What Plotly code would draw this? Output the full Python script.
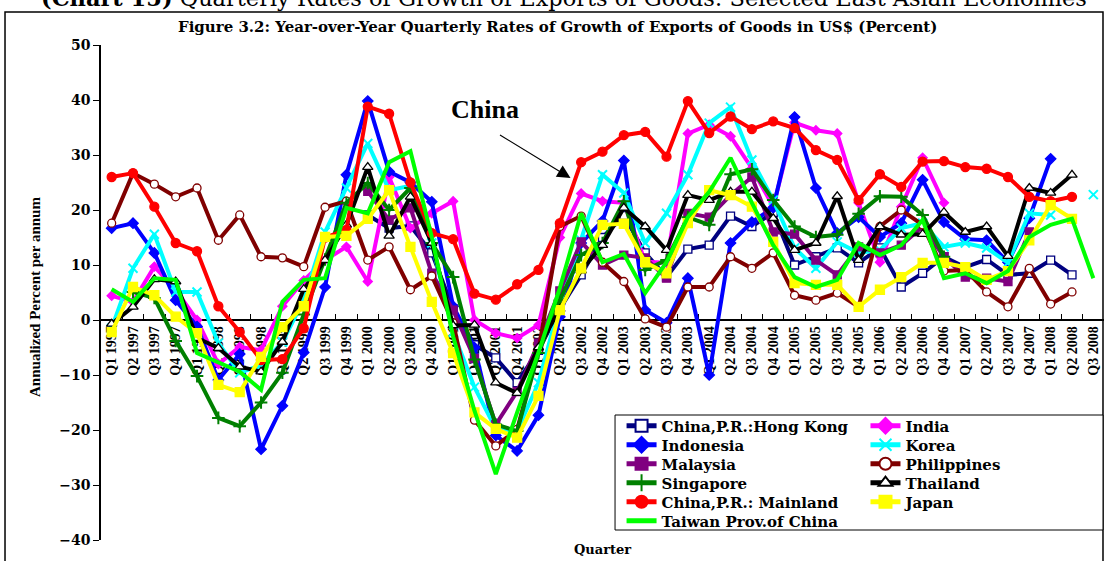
import plotly.graph_objects as go

quarters = [
    "Q1 1997", "Q2 1997", "Q3 1997", "Q4 1997",
    "Q1 1998", "Q2 1998", "Q3 1998", "Q4 1998",
    "Q1 1999", "Q2 1999", "Q3 1999", "Q4 1999",
    "Q1 2000", "Q2 2000", "Q3 2000", "Q4 2000",
    "Q1 2001", "Q2 2001", "Q3 2001", "Q4 2001",
    "Q1 2002", "Q2 2002", "Q3 2002", "Q4 2002",
    "Q1 2003", "Q2 2003", "Q3 2003", "Q4 2003",
    "Q1 2004", "Q2 2004", "Q3 2004", "Q4 2004",
    "Q1 2005", "Q2 2005", "Q3 2005", "Q4 2005",
    "Q1 2006", "Q2 2006", "Q3 2006", "Q4 2006",
    "Q1 2007", "Q2 2007", "Q3 2007", "Q4 2007",
    "Q1 2008", "Q2 2008", "Q3 2008",
]

N = None
hong_kong = [N, N, N, N, N, N, N, N, N, N, N, N,
             19.1, 16.7, 17.1, 12.2, 2.0, -4.5, -6.9, -11.4, -5.5, 2.0, 8.2, 15.0,
             19.0, 12.2, 7.8, 12.9, 13.6, 18.9, 17.0, 19.5, 10.0, 11.5, 13.1, 10.4,
             13.1, 6.0, 8.5, 11.5, 9.6, 11.0, 8.2, 8.5, 10.9, 8.2, N]
india = [4.4, 3.3, 9.7, 5.5, 0.0, -8.0, -4.9, -5.5, 2.5, 7.2, 10.9, 13.3,
         7.0, 26.0, 16.7, 19.4, 21.6, 0.0, -2.4, -3.3, -0.9, 15.0, 23.0, 21.6,
         21.3, 10.6, 10.4, 33.9, 35.5, 33.4, 27.6, 20.6, 35.9, 34.5, 33.9, 21.3,
         10.5, 20.6, 29.5, 21.3, N, N, N, N, N, N, N]
indonesia = [16.7, 17.6, 12.2, 3.6, -1.2, -10.9, -6.2, -23.5, -15.6, -5.9, 6.0, 26.4,
             39.8, 27.0, 25.0, 21.5, 2.5, -5.0, -21.0, -23.8, -17.3, 0.6, 14.0, 18.0,
             29.0, 1.8, -0.5, 7.6, -10.0, 14.0, 17.8, 20.4, 36.9, 24.0, 15.8, 18.7,
             15.1, 17.6, 25.5, 17.8, 14.7, 14.5, 10.5, 18.5, 29.3, N, N]
korea = [-1.5, 9.4, 15.6, 5.1, 5.1, -4.2, -9.6, -8.2, -4.0, 3.6, 16.0, 24.0,
         32.1, 23.6, 24.4, 14.0, -2.2, -12.2, -19.8, -20.2, -11.4, 3.0, 14.5, 26.4,
         23.1, 14.0, 19.4, 26.4, 35.8, 38.7, 29.1, 21.8, 13.1, 9.4, 14.2, 12.2,
         12.7, 16.7, 17.6, 13.3, 14.0, 13.1, 10.4, 19.4, 19.1, N, 22.8]
malaysia = [N, N, N, N, N, N, N, N, N, N, N, N,
            23.4, 18.2, 20.4, 8.5, 1.8, -7.0, -19.0, -13.0, -4.2, 5.3, 14.2, 10.0,
            11.8, 11.3, 7.6, 19.4, 18.7, 22.7, 26.0, 16.0, 15.6, 10.9, 8.2, 13.3,
            12.2, 13.6, 17.0, 11.5, 7.8, 7.6, 7.0, 16.0, N, N, N]
philippines = [17.6, 26.7, 24.7, 22.4, 24.0, 14.5, 19.1, 11.5, 11.3, 9.7, 20.5, 21.6,
               10.9, 13.3, 5.5, 8.0, -0.5, -18.2, -22.9, -19.9, -5.5, 17.0, 18.9, 10.5,
               7.0, 0.2, -1.3, 6.0, 6.0, 11.5, 9.4, 12.2, 4.5, 3.6, 4.9, 2.4,
               17.0, 20.0, 17.3, 8.9, 9.1, 5.1, 2.4, 9.4, 2.9, 5.1, N]
singapore = [N, 5.1, 4.0, -3.8, -10.2, -17.8, -19.3, -15.0, -9.6, 1.0, 11.0, 21.3,
             24.9, 20.0, 24.0, 14.0, 7.8, -7.2, -19.0, -20.2, -6.0, 3.6, 11.8, 14.0,
             21.6, 9.1, 10.9, 18.7, 17.3, 26.5, 27.4, 21.8, 17.0, 15.1, 15.5, 19.3,
             22.5, 22.4, 19.1, 11.5, N, N, N, N, N, N, N]
thailand = [-0.7, 2.4, 7.4, 7.0, -3.3, -5.1, -8.5, -9.4, -4.0, 5.6, 10.9, 17.3,
            27.8, 15.3, 22.4, 14.0, -1.0, -0.9, -11.4, -13.3, -5.0, 2.0, 9.0, 13.6,
            20.4, 17.0, 12.7, 22.7, 21.8, 23.3, 23.3, 18.5, 12.7, 14.0, 22.5, 10.9,
            17.0, 15.5, 15.6, 19.6, 16.0, 17.0, 11.6, 24.0, 23.1, 26.4, N]
mainland = [26.0, 26.7, 20.6, 14.0, 12.5, 2.5, -2.2, -7.3, -7.1, -1.5, 15.0, 16.4,
            38.8, 37.5, 25.0, 15.8, 14.7, 4.8, 3.7, 6.5, 9.1, 17.6, 28.7, 30.6,
            33.6, 34.2, 29.7, 39.8, 34.0, 37.0, 34.7, 36.1, 34.9, 30.9, 29.1, 21.8,
            26.5, 24.2, 28.8, 28.9, 27.8, 27.5, 26.0, 22.4, 21.6, 22.4, N]
japan = [-2.2, 6.0, 4.5, 0.6, -2.4, -11.8, -13.1, -6.7, -1.3, 2.5, 15.1, 15.3,
         18.4, 23.6, 13.3, 3.3, -6.0, -16.8, -19.8, -21.4, -13.8, 1.8, 9.4, 17.3,
         17.5, 10.5, 8.5, 17.6, 23.6, 22.7, 20.6, 14.2, 6.7, 6.4, 6.4, 2.4,
         5.5, 7.8, 10.4, 10.4, 9.6, 7.3, 8.9, 14.5, 20.9, 18.4, N]
taiwan = [5.6, 3.3, 7.6, 7.3, -6.0, -7.8, -9.4, -12.7, 3.3, 7.3, 7.6, 20.4,
          19.4, 28.7, 30.7, 15.1, -3.0, -16.5, -28.0, -16.8, -5.9, 5.8, 19.4, 10.5,
          12.0, 4.9, 10.5, 18.7, 23.3, 29.5, 21.3, 13.6, 7.8, 6.0, 7.3, 14.0,
          11.8, 13.6, 18.2, 7.6, 8.5, 6.7, 8.9, 15.1, 17.3, 18.4, 7.6]

y_ticks = [-40, -30, -20, -10, 0, 10, 20, 30, 40, 50]

SERIF = "Liberation Serif"
WIDE = "DejaVu Serif"

# (name, values, line colour, marker symbol, marker size, marker fill, marker line colour, legend column, legend row)
series = [
    ("China,P.R.:Hong Kong", hong_kong, "#000080", "square", 8, "white", "#000080", 0, 0),
    ("India", india, "#FF00FF", "diamond", 7, "#FF00FF", "#FF00FF", 1, 0),
    ("Indonesia", indonesia, "#0000FF", "diamond", 8, "#0000FF", "#0000FF", 0, 1),
    ("Korea", korea, "#00FFFF", "x-thin", 9, "#00FFFF", "#00FFFF", 1, 1),
    ("Malaysia", malaysia, "#800080", "square", 8, "#800080", "#800080", 0, 2),
    ("Philippines", philippines, "#800000", "circle", 8, "white", "#800000", 1, 2),
    ("Singapore", singapore, "#008000", "cross-thin", 9, "#008000", "#008000", 0, 3),
    ("Thailand", thailand, "#000000", "triangle-up", 9, "white", "#000000", 1, 3),
    ("China,P.R.: Mainland", mainland, "#FF0000", "circle", 9, "#FF0000", "#FF0000", 0, 4),
    ("Japan", japan, "#FFFF00", "square", 9, "#FFFF00", "#FFFF00", 1, 4),
    ("Taiwan Prov.of China", taiwan, "#00FF00", None, 0, None, None, 0, 5),
]

# legend grid geometry (paper coordinates of the plot area: 1003 x 495 px)
PLOT_W, PLOT_H = 1003.0, 495.0
LEG_COL_X = [0.519, 0.7622]
LEG_ROW0_PX = 426.0 - 45.0   # first row centre, measured from the plot top
LEG_ROW_STEP = 19.0

legend_font = dict(family=WIDE, size=15, color="black", weight="bold")

fig = go.Figure()
legend_layouts = {}
for i, (name, vals, col, sym, size, fill, mline, lcol, lrow) in enumerate(series):
    if sym is None:
        mode = "lines"
        marker = None
    else:
        mode = "lines+markers"
        thin = sym in ("x-thin", "cross-thin")
        marker = dict(symbol=sym, size=size, color=fill,
                      line=dict(color=mline, width=2 if thin else 1.3))
    key = "legend" if i == 0 else f"legend{i + 1}"
    fig.add_trace(go.Scatter(
        x=quarters, y=vals, name=name, mode=mode,
        line=dict(color=col, width=4),
        marker=marker, connectgaps=False, legend=key,
    ))
    y_center = 1.0 - (LEG_ROW0_PX + LEG_ROW_STEP * lrow) / PLOT_H
    legend_layouts[key] = dict(
        x=LEG_COL_X[lcol], y=y_center, xanchor="left", yanchor="middle",
        bgcolor="rgba(0,0,0,0)", borderwidth=0, font=legend_font,
        tracegroupgap=0, itemsizing="constant",
    )

fig.update_layout(**legend_layouts)

fig.update_layout(
    width=1105, height=561,
    margin=dict(l=101, r=1, t=45, b=21),
    paper_bgcolor="white", plot_bgcolor="white",
    showlegend=True,
    xaxis=dict(
        type="category", range=[-0.5, len(quarters) - 0.5],
        anchor="free", position=40 / 90,
        showline=True, linecolor="black", linewidth=1.5,
        ticks="inside", ticklen=5, tickcolor="black", tickson="boundaries",
        tickangle=-90, showgrid=False, zeroline=False,
        tickfont=dict(family=SERIF, size=14, color="black", weight="bold"),
        layer="below traces",
    ),
    yaxis=dict(
        range=[-40, 50], tickvals=y_ticks,
        showline=True, linecolor="black", linewidth=1.5,
        ticks="outside", ticklen=6, tickcolor="black",
        showgrid=False, zeroline=False,
        tickfont=dict(family=WIDE, size=14, color="black", weight="bold"),
    ),
    shapes=[
        dict(type="rect", xref="paper", yref="paper",
             x0=-0.0957, x1=0.999, y0=-0.2, y1=1.0667,
             line=dict(color="black", width=1.5), fillcolor="rgba(0,0,0,0)",
             layer="below"),
        dict(type="rect", xref="paper", yref="paper",
             x0=0.5125, x1=0.999, y0=0.0202, y1=0.2525,
             line=dict(color="black", width=1), fillcolor="white",
             layer="above"),
    ],
    annotations=[
        dict(text="<b>(Chart 15)</b> Quarterly Rates of Growth of Exports of Goods: Selected East Asian Economies",
             xref="paper", yref="paper", x=0.462, y=1.0646, xanchor="center", yanchor="bottom",
             showarrow=False, font=dict(family=WIDE, size=22.5, color="black")),
        dict(text="<b>Figure 3.2: Year-over-Year Quarterly Rates of Growth of Exports of Goods in US$ (Percent)</b>",
             xref="paper", yref="paper", x=0.4556, y=1.0364, xanchor="center", yanchor="middle",
             showarrow=False, font=dict(family=WIDE, size=15, color="black")),
        dict(text="<b>Annualized Percent per annum</b>", textangle=-90,
             xref="paper", yref="paper", x=-0.0658, y=0.491, xanchor="center", yanchor="middle",
             showarrow=False, font=dict(family=SERIF, size=15, color="black")),
        dict(text="<b>Quarter</b>",
             xref="paper", yref="paper", x=0.5, y=-0.0202, xanchor="center", yanchor="middle",
             showarrow=False, font=dict(family=WIDE, size=13, color="black")),
        dict(text="<b>China</b>",
             xref="x", yref="y", x=17.5, y=38.2, xanchor="center", yanchor="middle",
             showarrow=False, font=dict(family=SERIF, size=26, color="black")),
        dict(text="", xref="x", yref="y", x=21.5, y=25.8,
             showarrow=True, ax=-72, ay=-44, arrowhead=2, arrowsize=2.2,
             arrowwidth=1.2, arrowcolor="black", standoff=0),
    ],
)

fig.write_html("out.html", config={"displayModeBar": False},
               post_script="document.body.style.margin='0px';")
